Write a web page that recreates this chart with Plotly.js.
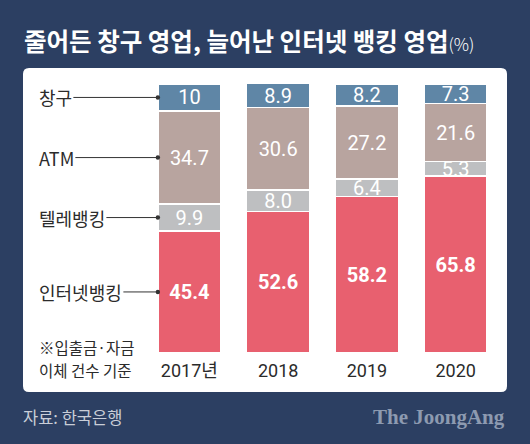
<!DOCTYPE html>
<html>
<head>
<meta charset="utf-8">
<script src="https://cdn.plot.ly/plotly-3.0.1.min.js"></script>
<style>html,body{margin:0;padding:0;background:#2c3f62;}#chart{width:530px;height:444px;}</style>
</head>
<body>
<div id="chart"></div>
<script>
// ---- data ----
const years = ['2017년', '2018', '2019', '2020'];
const internet = [45.4, 52.6, 58.2, 65.8];
const tele = [9.9, 8.0, 6.4, 5.3];
const atm = [34.7, 30.6, 27.2, 21.6];
const counter = [10, 8.9, 8.2, 7.3];
const seriesNames = ['인터넷뱅킹', '텔레뱅킹', 'ATM', '창구'];
const noteLines = ['※입출금·자금', '이체 건수 기준'];

// ---- styles ----
const NAVY = '#2c3f62';
const COLORS = ['#e8606f', '#bebfc1', '#b8a49f', '#5f86a6'];
const BARGAP = 0.29;
const NUMFONT = 'Roboto, "Noto Sans CJK KR", sans-serif';
const KRFONT = '"Noto Sans CJK KR", "Noto Sans", sans-serif';

const series = [internet, tele, atm, counter];
const templates = ['%{y}', '%{y:.1f}', '%{y}', '%{y}'];
const traces = series.map((vals, i) => ({
  type: 'bar',
  name: seriesNames[i],
  x: years,
  y: vals,
  marker: {color: COLORS[i], line: {color: '#ffffff', width: 1.5}},
  texttemplate: templates[i],
  textposition: 'inside',
  insidetextanchor: 'middle',
  textangle: 0,
  constraintext: 'none',
  textfont: {family: NUMFONT, size: 20, color: '#ffffff', weight: i === 0 ? 'bold' : 'normal'},
  hoverinfo: 'skip',
  showlegend: false
}));

// left labels pointing at 2017 bar segments
const barLeft = -(1 - BARGAP) / 2;
const centers = [
  internet[0] / 2,
  internet[0] + tele[0] / 2,
  internet[0] + tele[0] + atm[0] / 2,
  internet[0] + tele[0] + atm[0] + counter[0] / 2
];
const annotations = seriesNames.map((nm, i) => ({
  xref: 'x', yref: 'y', x: barLeft, y: centers[i],
  text: nm, showarrow: true, axref: 'pixel', ayref: 'pixel', ax: -121, ay: 0,
  xanchor: 'left', yanchor: 'middle',
  arrowhead: 6, arrowsize: 1.1, arrowwidth: 1, arrowcolor: '#333333',
  font: {family: KRFONT, size: 18, color: '#2b2b2b'}
}));

// paper mapping helpers (plot area: x 145..500, y 84..353)
const L = 145, R = 30, T = 84, B = 91, W = 530, H = 444;
const pw = W - L - R, ph = H - T - B;
const px = p => (p - L) / pw;
const py = p => (H - B - p) / ph;

noteLines.forEach((t, k) => annotations.push({
  xref: 'paper', yref: 'paper', x: px(38), y: py(347 + k * 23), xanchor: 'left', yanchor: 'middle',
  align: 'left', showarrow: false, text: t, borderpad: 0,
  font: {family: KRFONT, size: 15.5, color: '#2b2b2b'}
}));
annotations.push({
  xref: 'paper', yref: 'paper', x: px(21), y: py(417), xanchor: 'left', yanchor: 'middle',
  showarrow: false, text: '자료: 한국은행',
  font: {family: KRFONT, size: 16.5, color: '#c9ced8'}
});
annotations.push({
  xref: 'paper', yref: 'paper', x: px(507), y: py(417), xanchor: 'right', yanchor: 'middle',
  showarrow: false, text: 'The JoongAng',
  font: {family: '"Liberation Serif", "DejaVu Serif", serif', size: 21, color: '#8d9ab0', weight: 'bold'}
});

// white rounded panel
const x0 = px(23), x1 = px(507), yb = py(392), yt = py(68);
const rx = 6 / pw, ry = 6 / ph;
const panelPath = `M${x0+rx},${yt} L${x1-rx},${yt} Q${x1},${yt} ${x1},${yt-ry} L${x1},${yb+ry} Q${x1},${yb} ${x1-rx},${yb} L${x0+rx},${yb} Q${x0},${yb} ${x0},${yb+ry} L${x0},${yt-ry} Q${x0},${yt} ${x0+rx},${yt} Z`;

const layout = {
  width: W, height: H,
  margin: {l: L, r: R, t: T, b: B, pad: 0},
  paper_bgcolor: NAVY,
  plot_bgcolor: 'rgba(0,0,0,0)',
  barmode: 'stack',
  bargap: BARGAP,
  uniformtext: {mode: 'show', minsize: 20},
  title: {
    text: '줄어든 창구 영업, 늘어난 인터넷 뱅킹 영업<span style="font-size:17px;font-weight:300">(%)</span>',
    xref: 'container', yref: 'container', x: 24 / W, xanchor: 'left', y: 1 - 42 / H, yanchor: 'middle',
    font: {family: KRFONT, size: 24.5, color: '#ffffff', weight: 'bold'}
  },
  xaxis: {
    type: 'category', range: [-0.5, years.length - 0.5], autorange: false,
    showgrid: false, zeroline: false, showline: false, ticks: '',
    ticklabelstandoff: 5,
    tickfont: {family: NUMFONT, size: 18, color: '#2b2b2b'}
  },
  yaxis: {range: [0, 100], autorange: false, visible: false, fixedrange: true},
  shapes: [{type: 'path', xref: 'paper', yref: 'paper', path: panelPath, fillcolor: '#ffffff', line: {width: 0}, layer: 'below'}],
  annotations: annotations
};

Plotly.newPlot('chart', traces, layout, {displayModeBar: false, staticPlot: true});
</script>
</body>
</html>
